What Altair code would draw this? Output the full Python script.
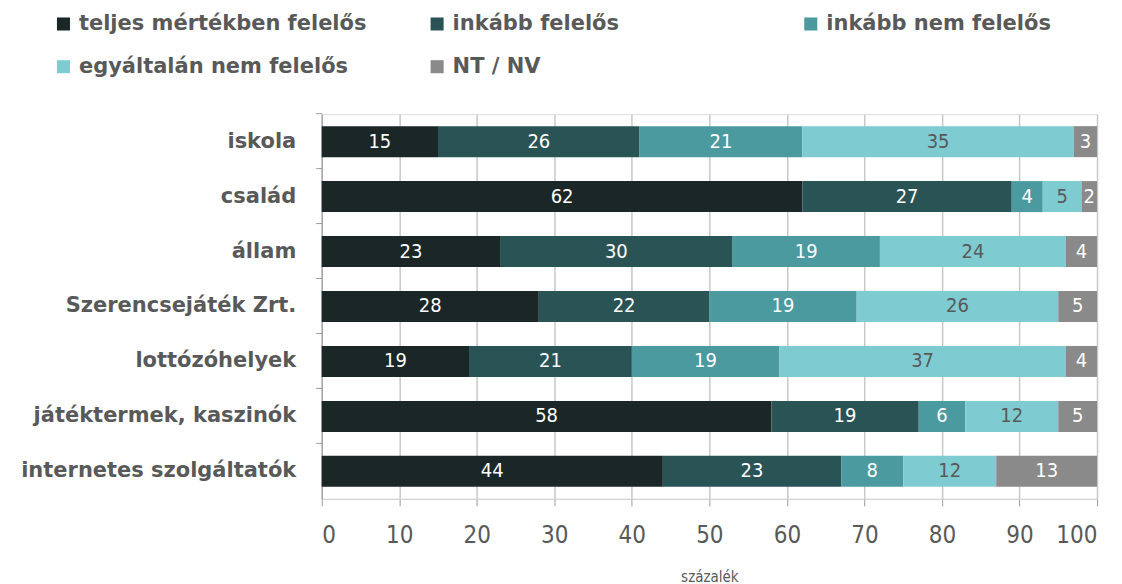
import altair as alt
import pandas as pd

categories = ["iskola", "család", "állam", "Szerencsejáték Zrt.", "lottózóhelyek",
              "játéktermek, kaszinók", "internetes szolgáltatók"]
series = ["teljes mértékben felelős", "inkább felelős", "inkább nem felelős",
          "egyáltalán nem felelős", "NT / NV"]
colors = ["#1b2627", "#2a5356", "#4a9aa0", "#7ecbd2", "#8a8a8a"]

teljes = [15, 62, 23, 28, 19, 58, 44]
inkabb = [26, 27, 30, 22, 21, 19, 23]
inkabb_nem = [21, 4, 19, 19, 19, 6, 8]
egyaltalan = [35, 5, 24, 26, 37, 12, 12]
ntnv = [3, 2, 4, 5, 4, 5, 13]

values = [teljes, inkabb, inkabb_nem, egyaltalan, ntnv]
rows = []
for si, (s, vals) in enumerate(zip(series, values)):
    for c, v in zip(categories, vals):
        rows.append({"cat": c, "series": s, "order": si, "value": v})
df = pd.DataFrame(rows)

FONT = "DejaVu Sans Condensed, Liberation Sans Narrow, DejaVu Sans, sans-serif"
BOLD = "DejaVu Sans"
GRAY = "#595959"

base = alt.Chart(df).transform_stack(
    stack="value", groupby=["cat"], as_=["x0", "x1"],
    sort=[alt.SortField("order", order="ascending")]
)

bars = base.mark_bar(size=31).encode(
    y=alt.Y("cat:N", sort=categories,
            scale=alt.Scale(paddingInner=0.44, paddingOuter=0.22),
            axis=alt.Axis(title=None, labelFont=BOLD, labelFontWeight="bold",
                          labelFontSize=21, labelColor=GRAY, labelPadding=20,
                          labelLimit=400,
                          tickSize=6, tickColor="#9a9a9a", domainColor="#9a9a9a",
                          bandPosition=-0.393, ticks=True)),
    x=alt.X("x0:Q", scale=alt.Scale(domain=[0, 100]),
            axis=alt.Axis(values=list(range(0, 101, 10)), title="százalék",
                          titleFont=FONT, titleFontSize=15, titleFontWeight="normal",
                          titleColor=GRAY, titlePadding=22,
                          labelFont=FONT, labelFontSize=24, labelColor=GRAY,
                          labelPadding=18, tickSize=7, tickColor="#9a9a9a",
                          domainColor="#d0d0d0", grid=True, gridColor="#c8c8c8",
                          gridWidth=1.5)),
    x2="x1:Q",
    color=alt.Color("series:N", sort=series,
                    scale=alt.Scale(domain=series, range=colors),
                    legend=alt.Legend(title=None, orient="none", legendX=-269,
                                      legendY=-101, direction="horizontal",
                                      columns=3, gridAlign="all", columnPadding=60,
                                      rowPadding=21, symbolType="square",
                                      symbolSize=170, symbolStrokeWidth=0,
                                      labelFont=BOLD, labelFontWeight="bold",
                                      labelFontSize=21, labelColor=GRAY,
                                      labelOffset=5, labelLimit=400)),
    order=alt.Order("order:Q"),
)

labels = base.transform_calculate(mid="(datum.x0 + datum.x1) / 2").mark_text(
    font=FONT, fontSize=20, baseline="middle", align="center"
).encode(
    y=alt.Y("cat:N", sort=categories),
    x=alt.X("mid:Q"),
    text=alt.Text("value:Q"),
    color=alt.condition(alt.datum.series == "egyáltalán nem felelős",
                        alt.value(GRAY), alt.value("white")),
)

chart = alt.layer(bars, labels).properties(
    width=776, height=385, padding={"left": 12, "top": 5, "right": 16, "bottom": 0}
).configure_view(stroke=None).configure(background="white")

chart.save("out.html", embed_options={"renderer": "svg", "actions": False})
